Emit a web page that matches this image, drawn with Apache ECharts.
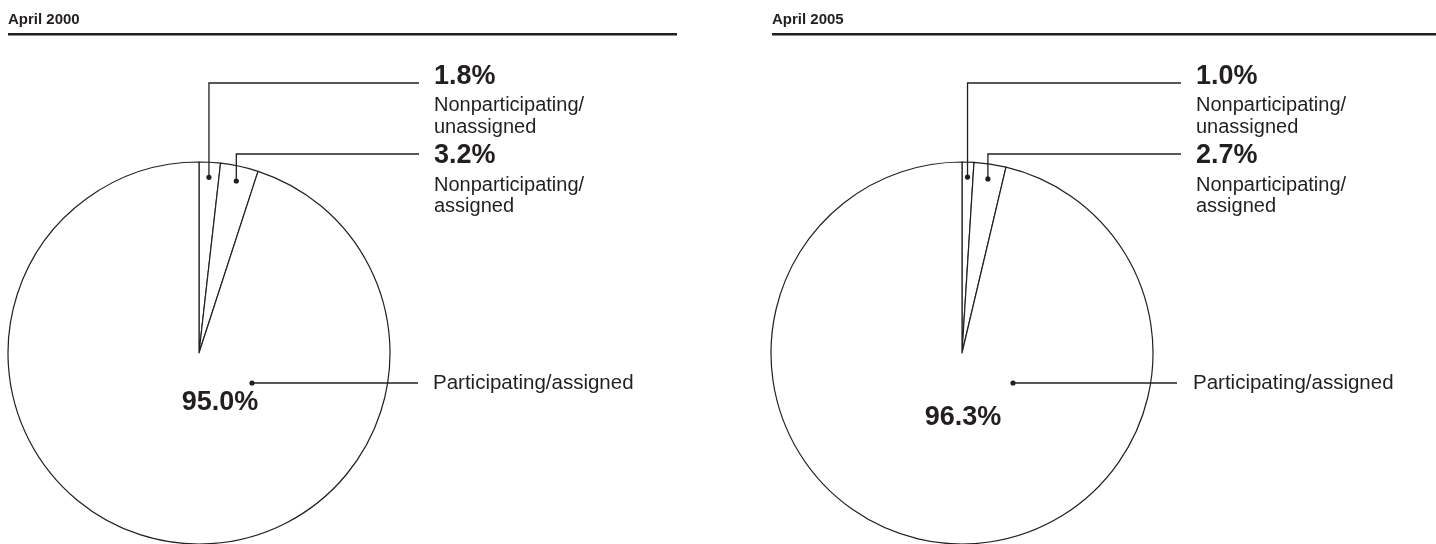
<!DOCTYPE html>
<html><head><meta charset="utf-8">
<script src="https://cdn.jsdelivr.net/npm/echarts@6/dist/echarts.min.js"></script>
<style>html,body{margin:0;padding:0;background:#fff}#c{width:1436px;height:544px}</style>
</head><body><div id="c"></div>
<script>
// ---- data ----
const panelTitles = ['April 2000', 'April 2005'];
const categories = ['Nonparticipating/unassigned', 'Nonparticipating/assigned', 'Participating/assigned'];
const labelLines = [['Nonparticipating/', 'unassigned'], ['Nonparticipating/', 'assigned'], ['Participating/assigned']];
const values2000 = [1.8, 3.2, 95.0];
const values2005 = [1.0, 2.7, 96.3];
const panelValues = [values2000, values2005];

// ---- layout (positions / styles only) ----
const INK = '#231f20';
const FONT = '"Liberation Sans", Arial, Helvetica, sans-serif';
const panels = [
  { cx: 199, cy: 353, r: 191, titleX: 8, ruleX0: 8, ruleX1: 677,
    lineEndX: 419, labelX: 434, bigDot: [53, 30], bigLineEnd: 418, bigLabelX: 433, bigPct: [21, 50] },
  { cx: 962, cy: 353, r: 191, titleX: 772, ruleX0: 772, ruleX1: 1436,
    lineEndX: 1181, labelX: 1196, bigDot: [51, 30], bigLineEnd: 1177, bigLabelX: 1193, bigPct: [1, 65] }
];
const cornerY = [83, 154];          // elbow heights of the leader lines
const pctY = [77, 156];             // centre of bold percentage labels
const nameY = [[105, 127], [185, 206]];
const dotR = 176;                   // radius of the dots inside slices
const Z = 10;

const series = [];
const graphic = [];
panels.forEach((p, k) => {
  const vals = panelValues[k];
  const total = vals.reduce((a, b) => a + b, 0);
  series.push({
    type: 'pie', center: [p.cx, p.cy], radius: p.r, startAngle: 90, clockwise: true,
    silent: true, animation: false, label: { show: false }, labelLine: { show: false },
    avoidLabelOverlap: false, minAngle: 0, z: 1,
    itemStyle: { color: '#ffffff', borderColor: INK, borderWidth: 1.2 },
    data: categories.map((c, i) => ({ name: c, value: vals[i] }))
  });
  // title + rule
  graphic.push({ type: 'text', z: Z, style: { x: p.titleX, y: 20, text: panelTitles[k], font: 'bold 15px ' + FONT, fill: INK, verticalAlign: 'middle' } });
  graphic.push({ type: 'rect', z: Z, shape: { x: p.ruleX0, y: 33, width: p.ruleX1 - p.ruleX0, height: 2.4 }, style: { fill: INK } });
  // small slices: leader lines + labels
  let cum = 0;
  for (let i = 0; i < 2; i++) {
    const mid = (cum + vals[i] / 2) / total * 2 * Math.PI;
    cum += vals[i];
    const dx = p.cx + dotR * Math.sin(mid), dy = p.cy - dotR * Math.cos(mid);
    graphic.push({ type: 'polyline', z: Z, shape: { points: [[dx, dy], [dx, cornerY[i]], [p.lineEndX, cornerY[i]]] },
      style: { stroke: INK, lineWidth: 1.3, fill: null } });
    graphic.push({ type: 'circle', z: Z, shape: { cx: dx, cy: dy, r: 2.6 }, style: { fill: INK } });
    graphic.push({ type: 'text', z: Z, style: { x: p.labelX, y: pctY[i], text: vals[i].toFixed(1) + '%', font: 'bold 27px ' + FONT, fill: INK, verticalAlign: 'middle' } });
    labelLines[i].forEach((t, j) => {
      graphic.push({ type: 'text', z: Z, style: { x: p.labelX, y: nameY[i][j], text: t, font: '20px ' + FONT, fill: INK, verticalAlign: 'middle' } });
    });
  }
  // big slice
  const bx = p.cx + p.bigDot[0], by = p.cy + p.bigDot[1];
  graphic.push({ type: 'line', z: Z, shape: { x1: bx, y1: by, x2: p.bigLineEnd, y2: by }, style: { stroke: INK, lineWidth: 1.3 } });
  graphic.push({ type: 'circle', z: Z, shape: { cx: bx, cy: by, r: 2.6 }, style: { fill: INK } });
  graphic.push({ type: 'text', z: Z, style: { x: p.bigLabelX, y: by, text: labelLines[2][0], font: '20.5px ' + FONT, fill: INK, verticalAlign: 'middle' } });
  graphic.push({ type: 'text', z: Z, style: { x: p.cx + p.bigPct[0], y: p.cy + p.bigPct[1], text: vals[2].toFixed(1) + '%', font: 'bold 27px ' + FONT, fill: INK, align: 'center', verticalAlign: 'middle' } });
});

const chart = echarts.init(document.getElementById('c'), null, { renderer: 'canvas' });
chart.setOption({ animation: false, backgroundColor: '#ffffff', series: series, graphic: graphic });
</script></body></html>
